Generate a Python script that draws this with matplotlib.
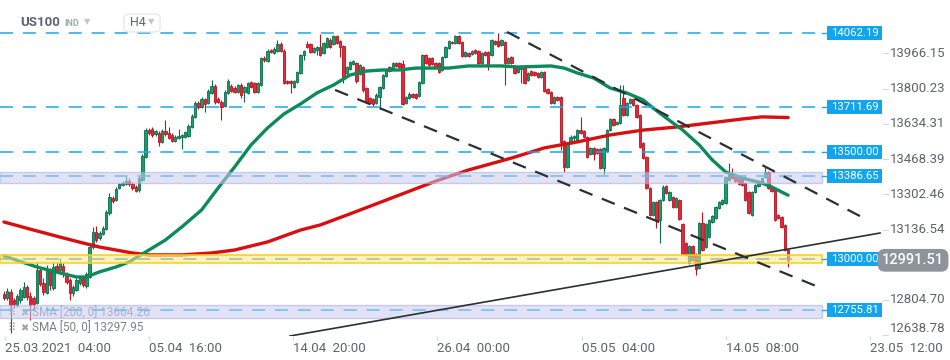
import numpy as np
import matplotlib.pyplot as plt
from matplotlib.patches import Rectangle, FancyBboxPatch
from matplotlib.transforms import blended_transform_factory

plt.rcParams['font.family'] = ['Roboto', 'DejaVu Sans']

# US100 H4 candles, 25.03.2021 - 19.05.2021
opens = [
    12833, 12814, 12843, 12805, 12781, 12805, 12819, 12866, 12824, 12814,
    12791, 12946, 12885, 12838, 12937, 12861, 12965, 12946, 12965, 12923,
    12899, 12838, 12852, 12885, 12908, 12871, 12913, 13054, 13125, 13097,
    13116, 13139, 13214, 13285, 13276, 13332, 13346, 13351, 13365, 13351,
    13337, 13323, 13370, 13478, 13605, 13610, 13586, 13591, 13549, 13601,
    13591, 13582, 13554, 13568, 13572, 13572, 13577, 13619, 13667, 13732,
    13714, 13751, 13732, 13780, 13813, 13751, 13737, 13718, 13780, 13813,
    13803, 13784, 13817, 13784, 13780, 13831, 13827, 13784, 13817, 13944,
    13930, 13982, 13968, 13977, 14010, 13977, 13836, 13836, 13808, 13831,
    13874, 13959, 14010, 14010, 13973, 13982, 13996, 13968, 13996, 14029,
    14010, 14048, 14025, 14001, 13874, 13893, 13916, 13921, 13869, 13902,
    13803, 13756, 13751, 13732, 13761, 13803, 13860, 13902, 13897, 13921,
    13921, 13916, 13732, 13756, 13775, 13775, 13765, 13827, 13959, 13944,
    13944, 13921, 13921, 13888, 13949, 13992, 14020, 14015, 14048, 14020,
    13954, 13968, 13963, 13982, 13977, 13921, 13973, 13973, 13959, 14025,
    14025, 14006, 14020, 13921, 13949, 13902, 13879, 13893, 13907, 13841,
    13883, 13879, 13874, 13855, 13879, 13798, 13784, 13732, 13761, 13761,
    13554, 13431, 13544, 13568, 13558, 13605, 13601, 13572, 13492, 13521,
    13516, 13516, 13426, 13506, 13605, 13657, 13634, 13638, 13756, 13676,
    13732, 13751, 13723, 13676, 13544, 13478, 13332, 13205, 13266, 13182,
    13276, 13342, 13276, 13290, 13243, 13276, 13163, 13073, 12979, 13059,
    13021, 12956, 13167, 13054, 13101, 13172, 13191, 13238, 13257, 13262,
    13370, 13393, 13393, 13375, 13379, 13356, 13313, 13205, 13313, 13342,
    13356, 13384, 13408, 13332, 13332, 13205, 13196, 13158, 13040]
highs = [
    12847, 12861, 12857, 12814, 12833, 12861, 12890, 12876, 12843, 12824,
    12984, 12956, 12908, 12970, 12956, 12984, 12984, 13003, 12979, 12937,
    12908, 12876, 12908, 12918, 12918, 12937, 13064, 13149, 13153, 13130,
    13153, 13229, 13309, 13295, 13337, 13356, 13365, 13389, 13379, 13360,
    13346, 13389, 13492, 13615, 13615, 13619, 13605, 13601, 13610, 13652,
    13619, 13591, 13582, 13610, 13586, 13601, 13634, 13681, 13742, 13742,
    13761, 13756, 13798, 13841, 13822, 13761, 13747, 13794, 13846, 13822,
    13813, 13822, 13827, 13813, 13831, 13836, 13831, 13831, 13949, 13954,
    13987, 13987, 13996, 14029, 14020, 13987, 13841, 13841, 13841, 13883,
    13963, 13982, 14025, 14015, 13996, 14001, 14058, 14020, 14043, 14039,
    14053, 14053, 14029, 14006, 13907, 13930, 13935, 13926, 13916, 13907,
    13808, 13761, 13756, 13780, 13813, 13869, 13897, 13907, 13926, 13926,
    13926, 13935, 13765, 13784, 13780, 13780, 13836, 13963, 13963, 13949,
    13949, 13926, 13926, 13954, 14001, 14029, 14025, 14053, 14053, 14025,
    13977, 13973, 13982, 13987, 13982, 13973, 13977, 13977, 14034, 14029,
    14062, 14034, 14025, 13949, 13954, 13907, 13907, 13912, 13912, 13879,
    13888, 13883, 13879, 13883, 13883, 13803, 13789, 13765, 13765, 13765,
    13558, 13549, 13582, 13582, 13610, 13667, 13605, 13577, 13525, 13525,
    13521, 13521, 13525, 13610, 13662, 13662, 13648, 13817, 13817, 13737,
    13756, 13756, 13728, 13681, 13549, 13483, 13337, 13271, 13271, 13280,
    13346, 13346, 13318, 13295, 13290, 13280, 13167, 13078, 13064, 13064,
    13026, 13172, 13219, 13167, 13186, 13205, 13247, 13271, 13280, 13389,
    13450, 13426, 13398, 13379, 13384, 13360, 13318, 13318, 13351, 13360,
    13384, 13431, 13412, 13337, 13337, 13210, 13200, 13163, 13045]
lows = [
    12805, 12805, 12649, 12767, 12772, 12791, 12814, 12805, 12710, 12758,
    12786, 12871, 12828, 12833, 12852, 12852, 12932, 12937, 12913, 12880,
    12805, 12824, 12847, 12876, 12866, 12861, 12908, 13045, 13078, 13087,
    13111, 13134, 13205, 13262, 13271, 13328, 13342, 13346, 13342, 13323,
    13313, 13313, 13365, 13473, 13582, 13572, 13577, 13530, 13544, 13577,
    13563, 13549, 13549, 13563, 13516, 13568, 13572, 13615, 13662, 13704,
    13709, 13690, 13728, 13775, 13728, 13732, 13652, 13714, 13775, 13784,
    13780, 13780, 13756, 13737, 13775, 13803, 13780, 13780, 13813, 13926,
    13926, 13968, 13963, 13973, 13973, 13822, 13822, 13780, 13803, 13827,
    13869, 13935, 13992, 13968, 13968, 13959, 13954, 13963, 13992, 13992,
    14006, 14010, 13949, 13827, 13864, 13888, 13912, 13827, 13864, 13784,
    13732, 13728, 13718, 13728, 13704, 13798, 13855, 13879, 13893, 13902,
    13897, 13723, 13728, 13751, 13756, 13751, 13761, 13822, 13916, 13907,
    13912, 13897, 13874, 13883, 13944, 13987, 14010, 14010, 14010, 13949,
    13949, 13949, 13959, 13963, 13916, 13916, 13954, 13888, 13954, 14006,
    13996, 14001, 13817, 13916, 13916, 13869, 13874, 13827, 13822, 13836,
    13860, 13860, 13850, 13850, 13784, 13775, 13728, 13728, 13742, 13511,
    13408, 13426, 13539, 13549, 13554, 13586, 13568, 13473, 13488, 13464,
    13492, 13422, 13393, 13502, 13601, 13624, 13629, 13634, 13671, 13671,
    13728, 13718, 13662, 13521, 13469, 13328, 13200, 13200, 13144, 13073,
    13271, 13304, 13271, 13238, 13238, 13182, 13017, 13012, 12974, 12989,
    12923, 12951, 13036, 13050, 13097, 13167, 13186, 13233, 13252, 13257,
    13365, 13375, 13360, 13346, 13342, 13271, 13210, 13200, 13309, 13337,
    13351, 13379, 13328, 13313, 13177, 13186, 13144, 13036, 12960]
closes = [
    12814, 12847, 12781, 12786, 12824, 12852, 12866, 12819, 12781, 12786,
    12946, 12880, 12843, 12946, 12876, 12960, 12946, 12979, 12927, 12890,
    12838, 12866, 12899, 12908, 12876, 12927, 13054, 13125, 13087, 13120,
    13144, 13219, 13290, 13271, 13328, 13351, 13356, 13365, 13351, 13332,
    13318, 13379, 13483, 13605, 13591, 13582, 13601, 13549, 13601, 13586,
    13568, 13554, 13572, 13577, 13582, 13596, 13624, 13671, 13732, 13714,
    13751, 13728, 13789, 13813, 13737, 13737, 13714, 13784, 13836, 13789,
    13784, 13817, 13770, 13808, 13827, 13808, 13784, 13827, 13944, 13935,
    13977, 13973, 13987, 14010, 13977, 13827, 13827, 13827, 13836, 13879,
    13959, 13977, 13996, 13973, 13992, 13996, 13959, 14015, 14039, 13996,
    14048, 14015, 13996, 13855, 13902, 13926, 13930, 13836, 13912, 13794,
    13737, 13732, 13728, 13770, 13808, 13864, 13893, 13883, 13921, 13907,
    13902, 13728, 13761, 13775, 13761, 13756, 13831, 13959, 13921, 13912,
    13916, 13902, 13879, 13949, 13996, 14025, 14015, 14048, 14015, 13954,
    13973, 13954, 13977, 13968, 13921, 13968, 13959, 13912, 14029, 14010,
    14001, 14029, 13921, 13944, 13921, 13874, 13902, 13907, 13827, 13874,
    13864, 13864, 13855, 13879, 13789, 13780, 13732, 13761, 13747, 13549,
    13431, 13544, 13572, 13577, 13605, 13591, 13572, 13478, 13521, 13492,
    13497, 13426, 13521, 13605, 13657, 13629, 13643, 13723, 13676, 13732,
    13751, 13723, 13667, 13525, 13473, 13332, 13205, 13266, 13182, 13276,
    13337, 13309, 13313, 13243, 13285, 13186, 13021, 13017, 13059, 12993,
    12951, 13167, 13040, 13163, 13182, 13200, 13243, 13266, 13276, 13384,
    13393, 13379, 13365, 13351, 13346, 13276, 13214, 13313, 13346, 13356,
    13379, 13408, 13332, 13318, 13182, 13191, 13149, 13040, 12992]

# moving averages, sampled at bar numbers
sma50_idx = [0, 10, 17, 22, 25, 29, 34, 38, 44, 49, 54, 60, 65, 70, 75, 80,
             85, 90, 95, 100, 105, 110, 115, 120, 125, 130, 135, 141, 145,
             151, 156, 166, 170, 174, 179, 184, 189, 194, 197, 201, 206, 211,
             215, 219, 224, 230, 233, 238]
sma50_val = [13012, 12960, 12932, 12913, 12913, 12937, 12960, 12984, 13040,
             13087, 13149, 13229, 13332, 13431, 13535, 13615, 13681, 13728,
             13780, 13817, 13864, 13883, 13888, 13888, 13897, 13897, 13897,
             13907, 13907, 13907, 13902, 13907, 13897, 13874, 13850, 13803,
             13780, 13747, 13709, 13662, 13605, 13535, 13464, 13408, 13379,
             13356, 13337, 13298]
sma200_idx = [0, 9, 17, 24, 29, 34, 39, 44, 54, 63, 70, 80, 90, 96, 105, 120,
              132, 141, 154, 164, 174, 184, 194, 204, 214, 224, 230, 238]
sma200_val = [13172, 13134, 13101, 13073, 13054, 13040, 13026, 13017, 13017,
              13026, 13040, 13078, 13134, 13158, 13210, 13299, 13370, 13417,
              13473, 13521, 13549, 13582, 13605, 13619, 13638, 13657, 13667,
              13664]

# trend lines: (bar, price) end points
down_upper = [(152.7, 14067), (262, 13182)]
down_lower = [(100.5, 13794), (248.6, 12857)]
up_line = [(86.8, 12635), (265.9, 13120)]

levels = [14062.19, 13711.69, 13500.00]
band_blue = [(13386.65, 13356, 13408), (12755.81, 12720, 12781)]
band_yellow = (13000.00, 12980, 13016)
last_price = 12991.51

axis_prices = [13966.15, 13800.23, 13634.31, 13468.39, 13302.46, 13136.54,
               12804.70, 12638.78]
tick_pos = [0.3, 44, 87.7, 131.5, 175.5, 219.2, 263]
tick_labels = ['25.03.2021  04:00', '05.04  16:00', '14.04  20:00',
               '26.04  00:00', '05.05  04:00', '14.05  08:00', '23.05  12:00']

fig = plt.figure(figsize=(9.5, 3.6), dpi=100)
ax = fig.add_axes([0, 24 / 360, 883 / 950, 336 / 360])
ax.set_xlim(-1.2, 266.8)
ax.set_ylim(12635, 14217.6)
for s in ax.spines.values():
    s.set_visible(False)
ax.set_yticks([])
bt = blended_transform_factory(ax.transAxes, ax.transData)

# candles
o, h, l, c = (np.array(v, dtype=float) for v in (opens, highs, lows, closes))
x = np.arange(len(c))
up = c >= o
ax.vlines(x[up], l[up], h[up], color='#0b6b47', lw=0.8, zorder=2)
ax.vlines(x[~up], l[~up], h[~up], color='#b8141f', lw=0.8, zorder=2)
body = np.maximum(np.abs(c - o), 3)
bottom = np.minimum(o, c)
ax.bar(x[up], body[up], bottom=bottom[up], width=0.72, color='#14a06d',
       edgecolor='#0b6b47', linewidth=0.6, zorder=3)
ax.bar(x[~up], body[~up], bottom=bottom[~up], width=0.72, color='#e5263d',
       edgecolor='#b8141f', linewidth=0.6, zorder=3)

# SMAs
ax.plot(sma200_idx, sma200_val, color='#d80f10', lw=2.4, zorder=4,
        solid_capstyle='round')
ax.plot(sma50_idx, sma50_val, color='#0b8a5b', lw=2.4, zorder=4,
        solid_capstyle='round')

# horizontal levels
xend = 822 / 883
blue = '#1aa7f0'
for lv in levels:
    ax.axhline(lv, xmin=0, xmax=xend, color=blue, lw=1.1,
               ls=(0, (8.5, 6.5)), zorder=5)
for lv, lo, hi in band_blue:
    ax.add_patch(Rectangle((0, lo), xend, hi - lo, transform=bt,
                           fc='#c9cbee', ec='#a9acd9', lw=1.0, alpha=0.55,
                           zorder=5))
    ax.axhline(lv, xmin=0, xmax=xend, color='#6fbdf0', lw=1.1,
               ls=(0, (8.5, 6.5)), zorder=5.5)
lv, lo, hi = band_yellow
ax.add_patch(Rectangle((0, lo), xend, hi - lo, transform=bt, fc='#fde68a',
                       ec='none', alpha=0.55, zorder=5))
ax.add_patch(Rectangle((0, lo), xend, hi - lo, transform=bt, fc='none',
                       ec='#f6cf22', lw=1.1, zorder=5))
ax.axhline(lv, xmin=0, xmax=xend, color='#9fbf98', lw=1.1,
           ls=(0, (8.5, 6.5)), zorder=5.5)

# level tags on the right
for lv in levels + [b[0] for b in band_blue] + [band_yellow[0]]:
    ax.axhline(lv, xmin=xend, xmax=827 / 883, color=blue, lw=1.0, zorder=5)
    ax.add_patch(Rectangle((827 / 883, lv - 33), 55 / 883, 66, transform=bt,
                           fc='#12a5ee', ec='none', zorder=7, clip_on=False))
    ax.text(854.5 / 883, lv, f'{lv:.2f}', transform=bt, ha='center',
            va='center', color='white', fontsize=8.2, zorder=8)

# trend lines
for pts in (down_upper, down_lower):
    (x0, y0), (x1, y1) = pts
    ax.plot([x0, x1], [y0, y1], color='#2b2f33', lw=1.6,
            ls=(0, (6.3, 4.5)), zorder=6)
(x0, y0), (x1, y1) = up_line
ax.plot([x0, x1], [y0, y1], color='#2b2f33', lw=1.2, zorder=6)

# price axis on the right
for p in axis_prices:
    va = 'bottom' if p == axis_prices[-1] else 'center'
    ax.text(1.008, p, f'{p:.2f}', transform=bt, ha='left', va=va,
            color='#5f6368', fontsize=9.5, clip_on=False)
    ax.plot([1.0, 1.0057], [p, p], transform=bt, color='#d5d7d9', lw=0.8,
            clip_on=False)
ax.text(1.034, last_price, f'{last_price:.2f}', transform=bt, ha='center',
        va='center', color='white', fontsize=10.5, fontweight='medium',
        clip_on=False, zorder=9,
        bbox=dict(boxstyle='round,pad=0.3,rounding_size=0.5', fc='#8e9499',
                  ec='none'))

# time axis
ax.set_xticks(tick_pos, labels=tick_labels)
for t in ax.get_xticklabels():
    t.set_ha('left')
ax.tick_params(axis='x', length=3, color='#d8d8d8', labelsize=9.5,
               labelcolor='#5f6368', pad=1.5)

# header
fig.text(20 / 950, 1 - 23 / 360, 'US100', fontsize=9.5, fontweight='bold',
         color='#5a6470', va='center')
fig.text(64 / 950, 1 - 24 / 360, 'IND', fontsize=6.5, fontweight='bold',
         color='#a2aab1', va='center')
fig.text(84 / 950, 1 - 22 / 360, '▼', fontsize=6, color='#c3c7cb',
         va='center')
fig.patches.append(FancyBboxPatch((124 / 950, 1 - 32 / 360), 36 / 950,
                                  18 / 360, boxstyle='round,pad=0,rounding_size=0.008',
                                  transform=fig.transFigure, fc='white',
                                  ec='#e2e4e6', lw=0.8))
fig.text(130 / 950, 1 - 23 / 360, 'H4', fontsize=9, color='#5a6470',
         va='center')
fig.text(148 / 950, 1 - 22 / 360, '▼', fontsize=6, color='#c3c7cb',
         va='center')

# indicator legend
ax.text(7 / 883, 1 - 313 / 336, '⠿', transform=ax.transAxes, fontsize=8,
        color='#9aa0a6', va='center', zorder=4.5)
ax.text(20 / 883, 1 - 313 / 336, '✖', transform=ax.transAxes, fontsize=7,
        color='#9aa0a6', va='center', zorder=4.5)
ax.text(32 / 883, 1 - 313 / 336, 'SMA [200, 0] 13664.26',
        transform=ax.transAxes, fontsize=8.5, color='#8b9096', va='center',
        zorder=4.5)
ax.text(7 / 883, 1 - 328 / 336, '⠿', transform=ax.transAxes, fontsize=8,
        color='#9aa0a6', va='center', zorder=4.5)
ax.text(20 / 883, 1 - 328 / 336, '✖', transform=ax.transAxes, fontsize=7,
        color='#9aa0a6', va='center', zorder=4.5)
ax.text(32 / 883, 1 - 328 / 336, 'SMA [50, 0] 13297.95',
        transform=ax.transAxes, fontsize=8.5, color='#7d8288', va='center',
        zorder=4.5)

fig.savefig('out.png', dpi=100)
